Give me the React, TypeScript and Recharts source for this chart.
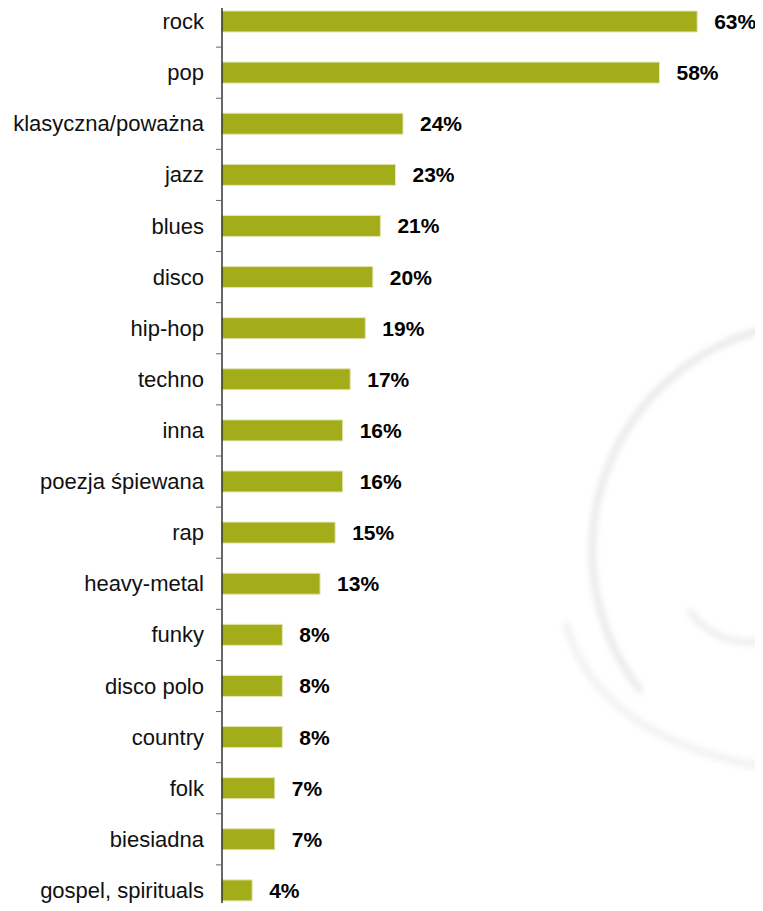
import { Bar, BarChart, LabelList, XAxis, YAxis } from "recharts"

const genres = [
  "rock",
  "pop",
  "klasyczna/poważna",
  "jazz",
  "blues",
  "disco",
  "hip-hop",
  "techno",
  "inna",
  "poezja śpiewana",
  "rap",
  "heavy-metal",
  "funky",
  "disco polo",
  "country",
  "folk",
  "biesiadna",
  "gospel, spirituals",
]

const shares = [63, 58, 24, 23, 21, 20, 19, 17, 16, 16, 15, 13, 8, 8, 8, 7, 7, 4]

const data = genres.map((name, i) => ({ name, share: shares[i] }))

const CHART_H = 920
const HALF_BAND = CHART_H / genres.length / 2
const FONT = "'Liberation Sans', Arial, sans-serif"

function GenreTick({ x, y, payload }: any) {
  return (
    <g>
      <text
        x={x - 18}
        y={y}
        textAnchor="end"
        dominantBaseline="central"
        fontSize={22}
        fontFamily={FONT}
        fill="#111"
      >
        {payload.value}
      </text>
      <line x1={x - 6} x2={x} y1={y + HALF_BAND} y2={y + HALF_BAND} stroke="#666" />
    </g>
  )
}

// faint background swirl
function Swirl() {
  return (
    <svg
      width={763}
      height={911}
      style={{ position: "absolute", left: 0, top: 0 }}
    >
      <defs>
        <filter id="soft" x="-20%" y="-20%" width="140%" height="140%">
          <feGaussianBlur stdDeviation="3" />
        </filter>
      </defs>
      <g filter="url(#soft)" fill="none" strokeLinecap="round">
        <path d="M 770 328 A 228 228 0 0 0 640 690" stroke="#e6e6e6" strokeWidth={6} />
        <path d="M 566 625 Q 600 740 770 768" stroke="#f1f1f1" strokeWidth={7} />
        <path d="M 690 612 Q 720 650 770 640" stroke="#ebebeb" strokeWidth={6} />
      </g>
    </svg>
  )
}

export default function App() {
  return (
    <div
      style={{
        position: "relative",
        width: 763,
        height: 911,
        margin: -8,
        overflow: "hidden",
        background: "#fff",
      }}
    >
      <Swirl />
      <div style={{ position: "absolute", left: 0, top: -4 }}>
        <BarChart
          width={763}
          height={CHART_H}
          data={data}
          layout="vertical"
          margin={{ top: 0, right: 13, bottom: 0, left: 0 }}
          barCategoryGap={0}
        >
          <XAxis type="number" domain={[0, 70]} hide />
          <YAxis
            type="category"
            dataKey="name"
            width={222}
            tickSize={0}
            tickMargin={0}
            tickLine={false}
            axisLine={{ stroke: "#000", strokeWidth: 1.2 }}
            tick={<GenreTick />}
            interval={0}
          />
          <Bar
            dataKey="share"
            fill="#a3ad1a"
            stroke="#e3e6b4"
            strokeWidth={1}
            barSize={21}
            isAnimationActive={false}
          >
            <LabelList
              dataKey="share"
              position="right"
              offset={17}
              formatter={(v: any) => `${v}%`}
              fill="#000"
              fontSize={21}
              fontWeight="bold"
              fontFamily={FONT}
            />
          </Bar>
        </BarChart>
      </div>
    </div>
  )
}
